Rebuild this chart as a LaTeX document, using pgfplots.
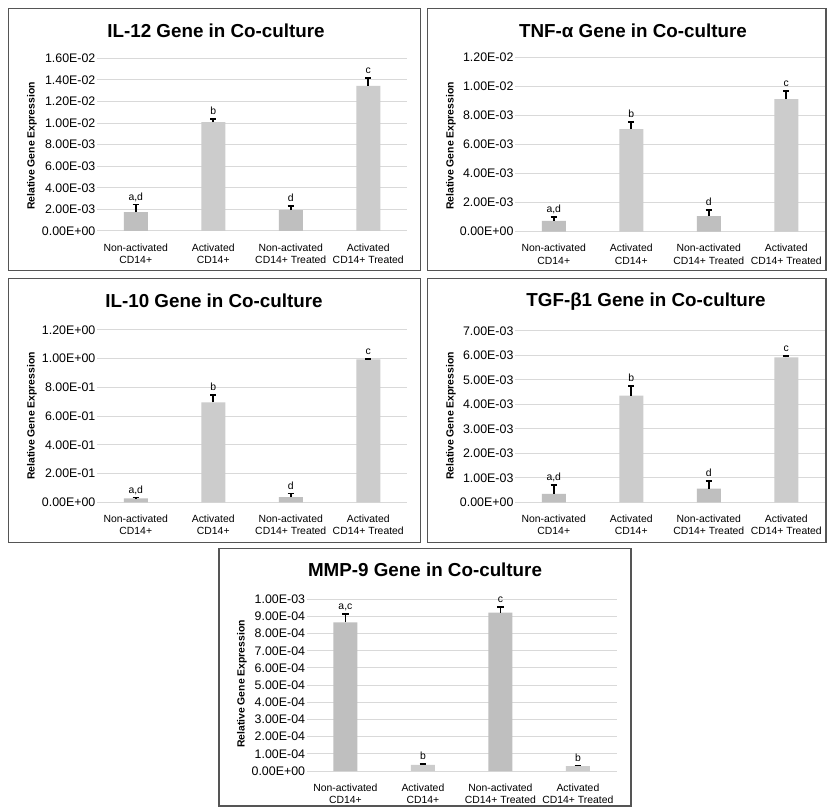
\documentclass[border=0pt]{standalone}
\usepackage{fontspec}
\setmainfont{Liberation Sans}
\usepackage{pgfplots}
\pgfplotsset{compat=1.18}
\definecolor{bardark}{RGB}{191,191,191}
\definecolor{barlight}{RGB}{204,204,204}
\definecolor{gridc}{RGB}{217,217,217}
\definecolor{framec}{RGB}{85,85,85}
\newcommand{\xfont}{\fontsize{7.8}{9.2}\selectfont}
\newcommand{\yfont}{\fontsize{9.3}{10}\selectfont}
\newcommand{\tfont}{\fontsize{14.1}{16}\selectfont\bfseries}
\newcommand{\ylfont}{\fontsize{7.8}{9}\selectfont\bfseries}
\newcommand{\lfont}{\fontsize{7.8}{9}\selectfont}
\tikzset{lab/.style={font=\lfont, anchor=base, yshift=3.2pt}}
\pgfplotsset{
  panel/.style={
    scale only axis, width=232.5pt, anchor=south west,
    ymin=0, xmin=-0.5, xmax=3.5,
    ybar, bar width=18pt, bar shift=0pt,
    clip=false,
    axis line style={draw=none},
    major tick length=0pt,
    ymajorgrids, grid style={gridc, line width=0.75pt},
    xtick={0,1,2,3},
    xticklabels={{Non-activated\\CD14+},{Activated\\CD14+},{Non-activated\\CD14+ Treated},{Activated\\CD14+ Treated}},
    x tick label style={font=\xfont, align=center, yshift=-6pt},
    y tick label style={font=\yfont, inner sep=1pt},
    scaled y ticks=false,
  },
  errs/.style={sharp plot, draw=none, mark=none, forget plot,
    error bars/.cd, y dir=plus, y explicit,
    error bar style={draw=black, solid, line width=1.2pt},
    error mark=-,
    error mark options={draw=black, solid, rotate=90, line width=1.2pt, mark size=2.4pt}},
}
\begin{document}
\begin{tikzpicture}
\begin{scope}[x=0.75pt,y=0.75pt]
\useasboundingbox (0,0) rectangle (827,808);
\fill[white] (0,0) rectangle (827,808);
\end{scope}

% IL-12
\begin{axis}[panel, at={(72.75pt,432.75pt)}, height=129.5pt, ymax=0.016,
  ytick={0,0.002,0.004,0.006,0.008,0.010,0.012,0.014,0.016},
  yticklabels={0.00E+00,2.00E-03,4.00E-03,6.00E-03,8.00E-03,1.00E-02,1.20E-02,1.40E-02,1.60E-02}]
\addplot[fill=bardark, draw=none] coordinates {(0,0.00175) (2,0.00194)};
\addplot[fill=barlight, draw=none] coordinates {(1,0.01009) (3,0.01345)};
\addplot[errs] coordinates {(0,0.00175) +- (0,0.00071) (1,0.01009) +- (0,0.00028) (2,0.00194) +- (0,0.00037) (3,0.01345) +- (0,0.00075)};
\node[lab] at (axis cs:0,0.00246) {a,d};
\node[lab] at (axis cs:1,0.01037) {b};
\node[lab] at (axis cs:2,0.00231) {d};
\node[lab] at (axis cs:3,0.01420) {c};
\end{axis}

% TNF-alpha
\begin{axis}[panel, at={(386.25pt,432.2pt)}, height=130.5pt, ymax=0.012,
  ytick={0,0.002,0.004,0.006,0.008,0.010,0.012},
  yticklabels={0.00E+00,2.00E-03,4.00E-03,6.00E-03,8.00E-03,1.00E-02,1.20E-02}]
\addplot[fill=bardark, draw=none] coordinates {(0,0.00074) (2,0.00108)};
\addplot[fill=barlight, draw=none] coordinates {(1,0.00708) (3,0.00915)};
\addplot[errs] coordinates {(0,0.00074) +- (0,0.00029) (1,0.00708) +- (0,0.00048) (2,0.00108) +- (0,0.00041) (3,0.00915) +- (0,0.00055)};
\node[lab] at (axis cs:0,0.00103) {a,d};
\node[lab] at (axis cs:1,0.00756) {b};
\node[lab] at (axis cs:2,0.00149) {d};
\node[lab] at (axis cs:3,0.00970) {c};
\end{axis}

% IL-10
\begin{axis}[panel, at={(72.75pt,229.3pt)}, height=129.2pt, ymax=1.2,
  ytick={0,0.2,0.4,0.6,0.8,1.0,1.2},
  yticklabels={0.00E+00,2.00E-01,4.00E-01,6.00E-01,8.00E-01,1.00E+00,1.20E+00}]
\addplot[fill=bardark, draw=none] coordinates {(0,0.027) (2,0.036)};
\addplot[fill=barlight, draw=none] coordinates {(1,0.696) (3,0.995)};
\addplot[errs] coordinates {(0,0.027) +- (0,0.005) (1,0.696) +- (0,0.053) (2,0.036) +- (0,0.026) (3,0.995) +- (0,0.003)};
\node[lab] at (axis cs:0,0.032) {a,d};
\node[lab] at (axis cs:1,0.749) {b};
\node[lab] at (axis cs:2,0.062) {d};
\node[lab] at (axis cs:3,0.998) {c};
\end{axis}

% TGF-beta1
\begin{axis}[panel, at={(386.25pt,229.3pt)}, height=128.5pt, ymax=0.007,
  ytick={0,0.001,0.002,0.003,0.004,0.005,0.006,0.007},
  yticklabels={0.00E+00,1.00E-03,2.00E-03,3.00E-03,4.00E-03,5.00E-03,6.00E-03,7.00E-03}]
\addplot[fill=bardark, draw=none] coordinates {(0,0.00034) (2,0.00056)};
\addplot[fill=barlight, draw=none] coordinates {(1,0.00436) (3,0.00592)};
\addplot[errs] coordinates {(0,0.00034) +- (0,0.00037) (1,0.00436) +- (0,0.00039) (2,0.00056) +- (0,0.00032) (3,0.00592) +- (0,0.00006)};
\node[lab] at (axis cs:0,0.00071) {a,d};
\node[lab] at (axis cs:1,0.00475) {b};
\node[lab] at (axis cs:2,0.00088) {d};
\node[lab] at (axis cs:3,0.00598) {c};
\end{axis}

% MMP-9
\begin{axis}[panel, at={(230pt,27.75pt)}, height=128.8pt, ymax=0.001,
  ytick={0,0.0001,0.0002,0.0003,0.0004,0.0005,0.0006,0.0007,0.0008,0.0009,0.001},
  yticklabels={0.00E+00,1.00E-04,2.00E-04,3.00E-04,4.00E-04,5.00E-04,6.00E-04,7.00E-04,8.00E-04,9.00E-04,1.00E-03}]
\addplot[fill=bardark, draw=none] coordinates {(0,0.000866) (2,0.000922)};
\addplot[fill=barlight, draw=none] coordinates {(1,0.000035) (3,0.000029)};
\addplot[errs] coordinates {(0,0.000866) +- (0,0.000048) (1,0.000035) +- (0,0.000006) (2,0.000922) +- (0,0.000032) (3,0.000029) +- (0,0.000004)};
\node[lab] at (axis cs:0,0.000914) {a,c};
\node[lab] at (axis cs:1,0.000041) {b};
\node[lab] at (axis cs:2,0.000954) {c};
\node[lab] at (axis cs:3,0.000033) {b};
\end{axis}

\begin{scope}[x=0.75pt,y=0.75pt]
\draw[framec, line width=1.1pt] (8.3,537.5) rectangle (420.5,799.7);
\draw[framec, line width=1.1pt] (427.5,537.5) rectangle (826,799.5);
\draw[framec, line width=1.1pt] (8.3,265.3) rectangle (420.5,529.7);
\draw[framec, line width=1.1pt] (427.5,265.3) rectangle (826,529.7);
\draw[framec, line width=1.1pt] (219,2) rectangle (631,259.7);
\node[font=\tfont, anchor=base] at (216,770.7) {IL-12 Gene in Co-culture};
\node[font=\tfont, anchor=base] at (633,770.7) {TNF-α Gene in Co-culture};
\node[font=\tfont, anchor=base] at (214,500.7) {IL-10 Gene in Co-culture};
\node[font=\tfont, anchor=base] at (646,501) {TGF-β1 Gene in Co-culture};
\node[font=\tfont, anchor=base] at (425,231) {MMP-9 Gene in Co-culture};
\node[font=\ylfont, rotate=90] at (32,662) {Relative Gene Expression};
\node[font=\ylfont, rotate=90] at (451,662) {Relative Gene Expression};
\node[font=\ylfont, rotate=90] at (32,392) {Relative Gene Expression};
\node[font=\ylfont, rotate=90] at (451,392) {Relative Gene Expression};
\node[font=\ylfont, rotate=90] at (242,124) {Relative Gene Expression};
\end{scope}
\end{tikzpicture}
\end{document}
